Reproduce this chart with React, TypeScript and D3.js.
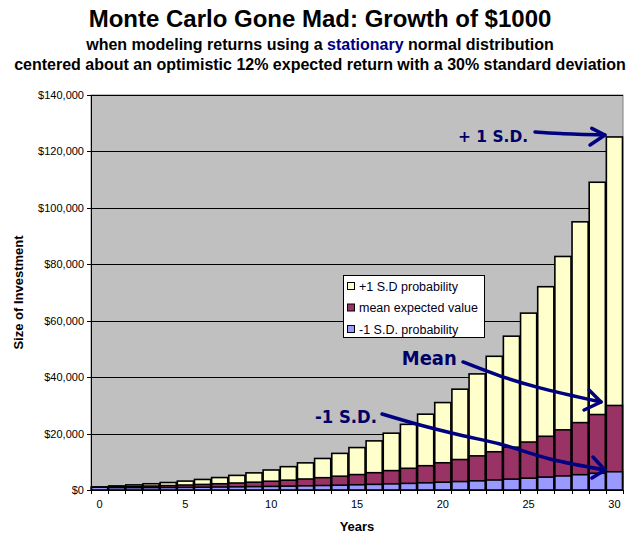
import React from 'react';
import * as d3 from 'd3';

const years = [0,1,2,3,4,5,6,7,8,9,10,11,12,13,14,15,16,17,18,19,20,21,22,23,24,25,26,27,28,29,30];
const plusOneSD = [1000,1450,1810,2210,2650,3160,3740,4410,5180,6070,7090,8270,9620,11180,12980,15040,17410,20140,23270,26870,30990,35730,41150,47390,54520,62690,72050,82770,95050,109080,125130];
const meanValue = [1000,1120,1250,1400,1570,1760,1970,2210,2480,2770,3110,3480,3900,4360,4890,5470,6130,6870,7690,8610,9650,10800,12100,13550,15180,17000,19040,21320,23880,26750,29960];
const minusOneSD = [1000,850,845,865,900,940,995,1055,1120,1200,1280,1375,1480,1590,1710,1850,2000,2165,2345,2540,2760,2990,3250,3540,3850,4190,4570,4980,5420,5920,6470];
const yTicks = [0,20000,40000,60000,80000,100000,120000,140000];
const xTickLabels = [0,5,10,15,20,25,30];

const seriesNames = ['+1 S.D probability','mean expected value','-1 S.D. probability'];
const seriesColors = ['#FFFFCC','#993366','#9999FF'];

// annotation anchors in data units [year, dollars]
const plusArrow: [number, number][] = [[25.37,126890],[26.83,126360],[29.45,125820]];
const plusHead: [number, number][] = [[28.68,128190],[29.45,125820],[28.58,122270]];
const meanArrow: [number, number][] = [[21.18,45370],[23.4,40300],[25.6,36300],[29.22,31190]];
const meanHead: [number, number][] = [[28.52,35440],[29.22,31190],[28.23,28350]];
const minusArrow: [number, number][] = [[16.46,26940],[18.67,23040],[21.0,19490],[23.33,16300],[26.25,10990],[29.45,7090]];
const minusHead: [number, number][] = [[28.75,11700],[29.45,7090],[28.69,4250]];

const W = 639, H = 544;
const L = 91, R = 623, T = 95, B = 490;

export default function App() {
  const x = d3.scaleBand<number>().domain(years).range([L, R]).paddingInner(0.06).paddingOuter(0.03);
  const xLin = d3.scaleLinear().domain([-0.5, 30.5]).range([L, R]);
  const y = d3.scaleLinear().domain([0, 140000]).range([B, T]);
  const step = (R - L) / years.length;
  const lineSmooth = d3.line<[number, number]>().x(d => xLin(d[0])).y(d => y(d[1])).curve(d3.curveCatmullRom);
  const lineStraight = d3.line<[number, number]>().x(d => xLin(d[0])).y(d => y(d[1]));
  const series = [plusOneSD, meanValue, minusOneSD];
  const fmt = (v: number) => '$' + d3.format(',')(v);
  const arrowStyle = { fill: 'none', stroke: '#000080', strokeWidth: 3.5, strokeLinecap: 'round' as const, strokeLinejoin: 'round' as const };
  const annFont = { fontFamily: '"DejaVu Sans", Verdana, sans-serif', fontWeight: 'bold' as const, fill: '#000066' };

  return (
    <svg width={W} height={H} style={{ position: 'absolute', left: 0, top: 0, background: '#fff' }} fontFamily="Arial, 'Liberation Sans', sans-serif">
      <rect x={0} y={0} width={W} height={H} fill="#fff" />
      <text x={320} y={27} textAnchor="middle" fontSize={24} fontWeight="bold">Monte Carlo Gone Mad: Growth of $1000</text>
      <text x={320} y={50} textAnchor="middle" fontSize={16} fontWeight="bold">when modeling returns using a <tspan fill="#000080">stationary</tspan> normal distribution</text>
      <text x={320} y={70} textAnchor="middle" fontSize={16} fontWeight="bold">centered about an optimistic 12% expected return with a 30% standard deviation</text>

      <rect x={L} y={T} width={R - L} height={B - T} fill="#C0C0C0" stroke="#808080" strokeWidth={1} />
      {yTicks.filter(t => t > 0).map(t => (
        <line key={'g' + t} x1={L} x2={R} y1={Math.round(y(t)) + 0.5} y2={Math.round(y(t)) + 0.5} stroke="#000" strokeWidth={1} />
      ))}

      {series.map((vals, si) => (
        <g key={'s' + si}>
          {years.map((yr, i) => (
            <rect key={yr} x={x(yr)} y={y(vals[i])} width={x.bandwidth()} height={B - y(vals[i])}
              fill={seriesColors[si]} stroke="#000" strokeWidth={1.6} />
          ))}
        </g>
      ))}

      <line x1={L + 0.5} x2={L + 0.5} y1={T} y2={B} stroke="#000" strokeWidth={1} />
      <line x1={L} x2={R} y1={B + 0.5} y2={B + 0.5} stroke="#000" strokeWidth={1} />
      {yTicks.map(t => (
        <g key={'yt' + t}>
          <line x1={L - 4} x2={L} y1={Math.round(y(t)) + 0.5} y2={Math.round(y(t)) + 0.5} stroke="#000" />
          <text x={L - 7} y={y(t) + 4} textAnchor="end" fontSize={11}>{fmt(t)}</text>
        </g>
      ))}
      {d3.range(years.length + 1).map(i => (
        <line key={'xt' + i} x1={Math.round(L + i * step) + 0.5} x2={Math.round(L + i * step) + 0.5} y1={B} y2={B + 4} stroke="#000" />
      ))}
      {xTickLabels.map(v => (
        <text key={'xl' + v} x={x(v)! + x.bandwidth() / 2} y={508} textAnchor="middle" fontSize={11}>{v}</text>
      ))}
      <text x={357} y={531} textAnchor="middle" fontSize={13} fontWeight="bold">Years</text>
      <text transform={`translate(23,${(T + B) / 2}) rotate(-90)`} textAnchor="middle" fontSize={13} fontWeight="bold">Size of Investment</text>

      <g>
        <rect x={343.5} y={275.5} width={141} height={62} fill="#fff" stroke="#000" strokeWidth={1} />
        {seriesNames.map((n, i) => (
          <g key={n}>
            <rect x={347.5} y={282.5 + i * 21.5} width={7} height={7} fill={seriesColors[i]} stroke="#000" strokeWidth={1} />
            <text x={359} y={290.5 + i * 21.5} fontSize={12.5} fill="#000020">{n}</text>
          </g>
        ))}
      </g>

      <text x={xLin(20.89)} y={y(123450)} fontSize={16} textLength={70} lengthAdjust="spacingAndGlyphs" {...annFont}>+ 1 S.D.</text>
      <text x={xLin(17.61)} y={y(44300)} fontSize={19} textLength={55} lengthAdjust="spacingAndGlyphs" {...annFont}>Mean</text>
      <text x={xLin(12.55)} y={y(23750)} fontSize={17.5} textLength={62} lengthAdjust="spacingAndGlyphs" {...annFont}>-1 S.D.</text>

      <path d={lineSmooth(plusArrow)!} {...arrowStyle} />
      <path d={lineStraight(plusHead)!} {...arrowStyle} />
      <path d={lineSmooth(meanArrow)!} {...arrowStyle} />
      <path d={lineStraight(meanHead)!} {...arrowStyle} />
      <path d={lineSmooth(minusArrow)!} {...arrowStyle} />
      <path d={lineStraight(minusHead)!} {...arrowStyle} />
    </svg>
  );
}
